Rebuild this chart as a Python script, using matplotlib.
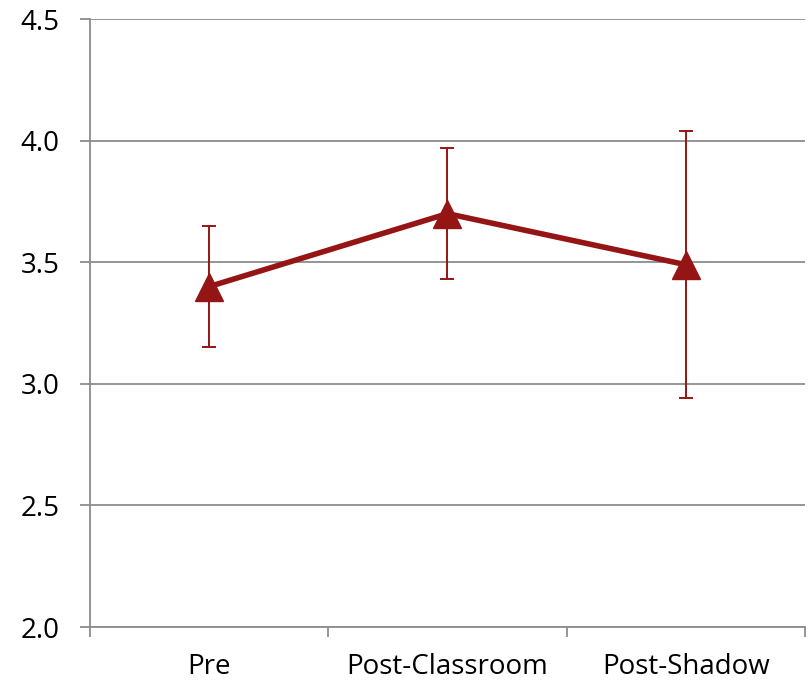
import numpy as np
import matplotlib.pyplot as plt

# Data
categories = ["Pre", "Post-Classroom", "Post-Shadow"]
means = [3.40, 3.70, 3.49]
errors = [0.25, 0.27, 0.55]

plt.rcParams['font.family'] = ['Open Sans', 'DejaVu Sans']
plt.rcParams['font.size'] = 20

fig = plt.figure(figsize=(8.09, 6.82), dpi=100)
ax = fig.add_axes([0.1112, 0.0806, 0.8838, 0.8914])

red = "#951515"
grid_gray = "#8c8c8c"

x = np.arange(len(categories))
ax.errorbar(x, means, yerr=errors, color=red, linewidth=4,
            marker='^', markersize=20, elinewidth=1.4, capsize=5,
            capthick=1.4, zorder=3)

# Axes limits and ticks
ax.set_xlim(-0.5, len(categories) - 0.5)
ax.set_ylim(2.0, 4.5)
ax.set_yticks(np.arange(2.0, 4.51, 0.5))
ax.set_yticklabels([f"{v:.1f}" for v in np.arange(2.0, 4.51, 0.5)])
ax.set_xticks(x)
ax.set_xticklabels(categories)
ax.set_xticks(np.arange(-0.5, len(categories), 1.0), minor=True)

ax.yaxis.grid(True, color=grid_gray, linewidth=1.3)
ax.set_axisbelow(True)

for side in ['top', 'right']:
    ax.spines[side].set_visible(False)
for side in ['left', 'bottom']:
    ax.spines[side].set_color(grid_gray)
    ax.spines[side].set_linewidth(1.3)

ax.tick_params(axis='y', length=7, width=1.3, color=grid_gray, pad=15)
ax.tick_params(axis='x', which='major', length=0, pad=19)
ax.tick_params(axis='x', which='minor', length=7, width=1.3, color=grid_gray)

fig.savefig("out.png", dpi=100)
